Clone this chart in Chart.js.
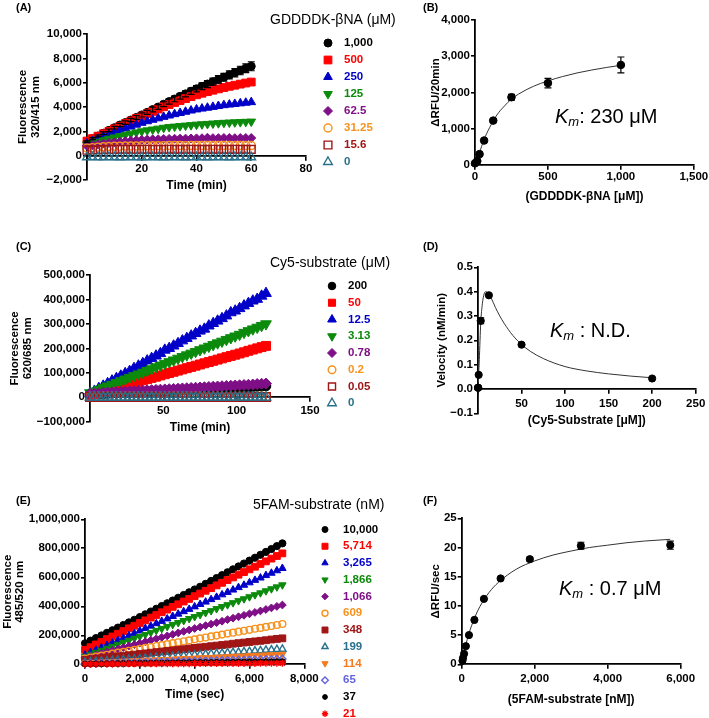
<!DOCTYPE html>
<html>
<head>
<meta charset="utf-8">
<script src="https://cdn.jsdelivr.net/npm/chart.js@4.4.1/dist/chart.umd.min.js"></script>
<style>
  html, body { margin: 0; padding: 0; background: #fff; }
  #wrap { position: relative; width: 709px; height: 718px; overflow: hidden; }
  canvas { position: absolute; }
</style>
</head>
<body>
<div id="wrap">
  <canvas id="cA" width="400" height="240" style="left:0;top:0"></canvas>
  <canvas id="cB" width="349" height="240" style="left:360px;top:0"></canvas>
  <canvas id="cC" width="400" height="230" style="left:0;top:240px"></canvas>
  <canvas id="cD" width="349" height="230" style="left:360px;top:240px"></canvas>
  <canvas id="cE" width="400" height="248" style="left:0;top:470px"></canvas>
  <canvas id="cF" width="349" height="248" style="left:360px;top:470px"></canvas>
</div>
<script>
// ---- (A) GDDDDK-bNA kinetics, RFU vs time (min)
const tA = [0,2,4,6,8,10,12,14,16,18,20,22,24,26,28,30,32,34,36,38,40,42,44,46,48,50,52,54,56,58,60];
const a1000 = [1150,1400,1620,1850,2080,2300,2520,2720,2930,3140,3350,3560,3790,4000,4230,4450,4660,4880,5080,5300,5500,5700,5890,6080,6270,6450,6640,6820,7000,7180,7350];
const a1000err = [60,80,80,100,110,110,130,140,140,160,170,170,190,200,200,220,230,230,250,260,260,280,290,290,310,320,330,340,350,360,370];
const a500 = [1200,1400,1600,1800,2000,2200,2420,2630,2840,3050,3250,3450,3640,3830,4020,4200,4370,4530,4690,4850,5000,5130,5260,5380,5490,5600,5700,5790,5880,5970,6050];
const a250 = [1000,1200,1380,1560,1730,1900,2070,2230,2390,2550,2700,2830,2950,3070,3190,3300,3410,3510,3610,3710,3800,3870,3940,4010,4080,4150,4200,4250,4300,4350,4400];
const a125 = [900,1030,1150,1270,1390,1500,1610,1710,1810,1910,2000,2080,2150,2220,2290,2350,2390,2430,2470,2510,2550,2580,2610,2640,2670,2700,2720,2740,2760,2780,2800];
const a62 = [800,870,930,990,1050,1100,1150,1190,1230,1270,1300,1320,1340,1350,1370,1380,1390,1400,1400,1410,1420,1430,1470,1440,1440,1450,1450,1440,1450,1450,1450];
const a31 = [620,660,700,730,750,770,780,790,800,800,810,810,820,820,820,830,830,830,820,830,830,830,840,830,830,830,840,830,830,830,830];
const a15 = [450,470,490,500,510,510,520,520,520,510,520,530,520,520,520,530,520,520,520,530,520,520,520,530,520,520,520,530,520,520,520];
const a0 = [-130,-120,-130,-130,-120,-130,-130,-130,-120,-130,-130,-130,-120,-130,-130,-130,-120,-130,-130,-130,-120,-130,-130,-130,-120,-130,-130,-130,-120,-130,-130];
const lblA = ['1,000','500','250','125','62.5','31.25','15.6','0'];

// ---- (B) rate vs GDDDDK-bNA
const concB = [0, 15.6, 31.25, 62.5, 125, 250, 500, 1000];
const rateB = [47, 110, 300, 675, 1225, 1870, 2260, 2760];
const errB = [0, 0, 0, 0, 40, 80, 130, 220];
const fitBx = [0, 15, 30, 60, 100, 150, 200, 250, 300, 400, 500, 600, 700, 800, 900, 1000];
const fitBy = [0, 150, 330, 680, 1030, 1380, 1620, 1820, 1960, 2170, 2320, 2440, 2540, 2620, 2690, 2750];

// ---- (C) Cy5-substrate kinetics, thousands of RFU vs time (min)
const tC = [0,3,6,9,12,15,18,21,24,27,30,33,36,39,42,45,48,51,54,57,60,63,66,69,72,75,78,81,84,87,90,93,96,99,102,105,108,111,114,117,120];
const c200 = [12,13,14,14,15,16,17,18,19,20,20,21,22,23,24,25,25,26,27,28,29,30,30,31,32,33,34,35,35,36,37,38,39,40,40,41,42,43,44,45,46];
const c50 = [8,13,18,23,28,33,38,43,48,53,58,63,69,74,79,84,89,94,99,104,109,114,119,124,129,134,139,144,149,154,159,164,169,174,179,184,190,195,200,205,210];
const c12 = [15,25,36,46,56,67,77,87,97,106,118,128,138,149,159,169,179,193,200,210,220,231,241,251,261,271,279,292,302,312,322,333,346,353,363,374,384,394,401,414,425];
const c3 = [18,25,32,39,46,53,60,67,74,81,88,95,102,109,116,124,131,138,145,152,159,166,173,180,187,194,201,208,215,222,229,236,243,250,257,265,272,279,286,293,300];
const c078 = [14,15,16,18,19,20,21,22,23,24,25,26,27,28,29,30,31,32,33,34,35,36,37,38,39,40,41,42,43,44,45,46,47,48,49,50,51,52,54,55,56];
const c02 = [2,2,2,2,2,2,2,2,2,2,2,2,2,2,2,2,2,2,2,2,2,2,2,2,2,2,2,2,2,2,2,2,2,2,2,2,2,2,2,2,2];
const c005 = [1,1,1,1,1,1,1,1,1,1,1,1,1,1,1,1,1,1,1,1,1,1,1,1,1,1,1,1,1,1,1,1,1,1,1,1,1,1,1,1,1];
const c0 = [-0.5,-0.5,-0.5,-0.5,-0.5,-0.5,-0.5,-0.5,-0.5,-0.5,-0.5,-0.5,-0.5,-0.5,-0.5,-0.5,-0.5,-0.5,-0.5,-0.5,-0.5,-0.5,-0.5,-0.5,-0.5,-0.5,-0.5,-0.5,-0.5,-0.5,-0.5,-0.5,-0.5,-0.5,-0.5,-0.5,-0.5,-0.5,-0.5,-0.5,-0.5];
const lblC = ['200','50','12.5','3.13','0.78','0.2','0.05','0'];

// ---- (D) velocity vs Cy5-substrate
const concD = [0, 0.05, 0.2, 0.78, 3.13, 12.5, 50, 200];
const velD = [0.005, 0.005, 0.005, 0.058, 0.28, 0.385, 0.182, 0.043];
const errD = [0, 0, 0, 0, 0.012, 0, 0, 0];
const fitDx = [0, 0.78, 1.5, 3.13, 5, 7, 9, 12.5, 15, 20, 25, 30, 40, 50, 60, 75, 100, 125, 150, 175, 200];
const fitDy = [0, 0.06, 0.12, 0.27, 0.35, 0.39, 0.40, 0.39, 0.375, 0.335, 0.30, 0.27, 0.22, 0.183, 0.155, 0.125, 0.092, 0.074, 0.062, 0.053, 0.046];

// ---- (E) 5FAM-substrate kinetics, thousands of RFU vs time (sec)
const tE = [0,200,400,600,800,1000,1200,1400,1600,1800,2000,2200,2400,2600,2800,3000,3200,3400,3600,3800,4000,4200,4400,4600,4800,5000,5200,5400,5600,5800,6000,6200,6400,6600,6800,7000,7200];
const e10000 = [145,163,181,199,217,235,253,271,289,307,326,345,364,383,402,421,440,459,478,497,516,535,555,575,595,615,635,655,675,695,715,735,755,775,795,815,834];
const e5714 = [100,118,137,155,174,192,211,229,248,266,285,303,322,340,359,377,396,414,433,451,470,488,507,525,544,562,581,599,618,636,655,673,692,710,729,747,765];
const e3265 = [65,82,98,115,131,148,165,181,198,214,231,248,264,281,297,314,331,347,364,380,397,414,430,447,463,480,497,513,530,546,563,580,596,613,629,646,662];
const e1866 = [55,69,82,96,110,123,137,151,164,178,192,205,219,233,246,260,274,287,301,315,328,342,356,369,383,397,410,424,438,451,465,479,492,506,520,533,547];
const e1066 = [45,55,65,75,85,96,106,116,126,136,146,156,166,176,186,196,206,217,227,237,247,257,267,277,287,297,308,318,328,338,348,358,368,378,389,399,409];
const e609 = [40,47,53,60,66,73,80,86,93,99,106,113,119,126,132,139,146,152,159,165,172,179,185,192,198,205,212,218,225,231,238,245,251,258,264,271,278];
const e348 = [30,34,38,42,47,51,55,59,63,67,71,75,80,84,88,92,96,100,104,109,113,117,121,125,129,133,137,142,146,150,154,158,162,166,171,175,179];
const e199 = [15,18,20,23,25,28,30,33,35,38,40,43,45,48,50,53,55,58,60,63,65,68,70,73,75,78,80,83,85,88,90,93,95,98,100,103,105];
const e114 = [8,10,11,13,15,16,18,20,22,23,25,27,28,30,32,33,35,37,39,40,42,44,45,47,49,50,52,54,56,57,59,61,62,64,66,67,69];
const e65 = [4,5,6,7,8,9,10,11,11,12,13,14,15,16,17,18,19,20,21,21,22,23,24,25,26,27,28,29,30,30,31,32,33,34,35,36,37];
const e37 = [2,2,3,3,4,4,5,5,6,6,7,7,7,8,8,9,9,10,10,11,11,12,12,12,13,13,14,14,15,15,16,16,16,17,17,18,18];
const e21 = [1,1,1,2,2,2,2,2,3,3,3,3,3,3,4,4,4,4,4,4,5,5,5,5,5,5,6,6,6,6,6,6,7,7,7,7,7];
const lblE = ['10,000','5,714','3,265','1,866','1,066','609','348','199','114','65','37','21'];

// ---- (F) rate vs 5FAM-substrate
const concF = [21, 37, 65, 114, 199, 348, 609, 1066, 1866, 3265, 5714];
const rateF = [0.6, 1.1, 1.8, 3.1, 5.0, 7.6, 11.2, 14.7, 18.0, 20.3, 20.4];
const errF = [0, 0, 0, 0, 0, 0, 0, 0, 0.3, 0.6, 0.7];
const fitFx = [0, 50, 100, 200, 350, 500, 750, 1000, 1500, 2000, 2500, 3000, 3500, 4000, 4500, 5000, 5714];
const fitFy = [0, 1.6, 3.0, 5.3, 7.9, 9.9, 12.3, 14.0, 16.3, 17.7, 18.7, 19.4, 20.0, 20.4, 20.8, 21.1, 21.4];

const FONT = '"Liberation Sans", Arial, Helvetica, sans-serif';
Chart.defaults.font.family = FONT;
Chart.defaults.color = '#000';

const BLACK = '#000000', RED = '#ff0000', BLUE = '#0000c8', GREEN = '#0b8a0b', PURPLE = '#7f0f86',
      ORANGE = '#f7921e', DKRED = '#a01515', TEAL = '#28708c', ORANGE2 = '#f47a20', LILAC = '#6464e0';

function fmt(v, dec) {
  dec = dec || 0;
  const s = Math.abs(v).toLocaleString('en-US', {minimumFractionDigits: dec, maximumFractionDigits: dec});
  return (v < -1e-9 ? '\u2212' : '') + s;
}

// one marker series; legR = marker size in the legend box
function series(label, xs, ys, color, style, r, open, rot, legR) {
  const fill = open ? 'rgba(0,0,0,0)' : color;
  return {
    label: label,
    data: xs.map((x, i) => ({x: x, y: ys[i]})),
    pointStyle: style, pointRadius: r, pointRotation: rot || 0, legR: legR || r,
    backgroundColor: fill, borderColor: color, pointBackgroundColor: fill, pointBorderColor: color,
    borderWidth: open || style === 'star' ? 1.4 : 1, pointBorderWidth: open || style === 'star' ? 1.4 : 1,
    showLine: false, clip: false
  };
}

// fitted curve
function curve(xs, ys) {
  return {
    label: '', curve: true,
    data: xs.map((x, i) => ({x: x, y: ys[i]})),
    showLine: true, pointRadius: 0, borderColor: '#333', borderWidth: 1,
    cubicInterpolationMode: 'monotone', fill: false, clip: false
  };
}

// error bars, panel letters, legends and Km text
const deco = {
  id: 'deco',
  afterDatasetsDraw(chart) {
    const ctx = chart.ctx, xs = chart.scales.x, ys = chart.scales.y;
    chart.data.datasets.forEach(ds => {
      if (!ds.errors) return;
      ctx.save();
      ctx.strokeStyle = ds.borderColor;
      ctx.lineWidth = 1.2;
      ds.data.forEach((p, i) => {
        const e = ds.errors[i];
        if (!e) return;
        const px = xs.getPixelForValue(p.x);
        const top = ys.getPixelForValue(p.y + e), bot = ys.getPixelForValue(p.y - e);
        ctx.beginPath();
        ctx.moveTo(px, top); ctx.lineTo(px, bot);
        ctx.moveTo(px - 3.5, top); ctx.lineTo(px + 3.5, top);
        ctx.moveTo(px - 3.5, bot); ctx.lineTo(px + 3.5, bot);
        ctx.stroke();
      });
      ctx.restore();
    });
  },
  afterDraw(chart, args, o) {
    const ctx = chart.ctx;
    ctx.save();
    ctx.textAlign = 'left';
    ctx.textBaseline = 'middle';
    ctx.fillStyle = '#000';
    if (o.letter) {
      ctx.font = 'bold 11px ' + FONT;
      ctx.fillText(o.letter, o.letterX, o.letterY);
    }
    if (o.legend) {
      const L = o.legend;
      ctx.font = '14px ' + FONT;
      ctx.fillText(L.title, L.titleX, L.titleY);
      let row = 0;
      chart.data.datasets.forEach(ds => {
        if (ds.curve) return;
        const y = L.y + row * L.rowH;
        row++;
        ctx.fillStyle = ds.backgroundColor;
        ctx.strokeStyle = ds.borderColor;
        ctx.lineWidth = ds.borderWidth;
        Chart.helpers.drawPoint(ctx, {pointStyle: ds.pointStyle, rotation: ds.pointRotation, radius: ds.legR, borderWidth: ds.borderWidth}, L.markX, y);
        ctx.fillStyle = ds.borderColor;
        ctx.font = 'bold 11.5px ' + FONT;
        ctx.fillText(ds.label, L.textX, y);
      });
    }
    if (o.km) {
      let x = o.km.x;
      const y = o.km.y;
      ctx.fillStyle = '#000';
      ctx.textBaseline = 'alphabetic';
      ctx.font = 'italic 20px ' + FONT;
      ctx.fillText('K', x, y);
      x += ctx.measureText('K').width;
      ctx.font = 'italic 13px ' + FONT;
      ctx.fillText('m', x, y + 3);
      x += ctx.measureText('m').width;
      ctx.font = '20px ' + FONT;
      ctx.fillText(o.km.rest, x, y);
    }
    ctx.restore();
  }
};
Chart.register(deco);

function axis(o) {
  return {
    type: 'linear', min: o.min, max: o.max, position: o.position,
    border: {display: true, color: '#000', width: 1.8},
    grid: {display: true, drawOnChartArea: false, drawTicks: true, tickLength: 4, color: '#000', lineWidth: 1.6},
    ticks: {stepSize: o.step, padding: o.pad, color: '#000', autoSkip: false, maxRotation: 0,
            font: {family: FONT, size: 11.5, weight: 'bold'}, callback: o.cb},
    title: {display: true, text: o.title, color: '#000', padding: o.titlePad,
            font: {family: FONT, size: o.titleSize, weight: 'bold', lineHeight: o.titleLH}},
    afterFit: o.fit
  };
}

function makeChart(id, p) {
  p.datasets.forEach((d, i) => { d.order = -i; });
  return new Chart(document.getElementById(id), {
    type: 'scatter',
    data: {datasets: p.datasets},
    options: {
      responsive: false, animation: false, events: [],
      layout: {padding: p.pad},
      plugins: {legend: {display: false}, tooltip: {enabled: false}, deco: p.deco},
      scales: {
        x: axis({min: p.x.min, max: p.x.max, step: p.x.step, position: {y: 0}, pad: p.x.pad,
                 cb: p.x.cb, title: p.x.title, titleSize: 12, titleLH: 1.2, titlePad: 0,
                 fit: s => { s.height = p.x.h; }}),
        y: axis({min: p.y.min, max: p.y.max, step: p.y.step, position: 'left', pad: 1,
                 cb: p.y.cb, title: p.y.title, titleSize: 11.5, titleLH: 1.1,
                 titlePad: {top: p.y.tpad, bottom: 0}, fit: s => { s.width = p.y.w; }})
      }
    }
  });
}

const noZero = v => (v === 0 ? '' : fmt(v));
const plain = v => fmt(v);
const thousands = v => fmt(v * 1000);

// (A)
const dsA = [
  series(lblA[0], tA, a1000, BLACK, 'circle', 4, false),
  series(lblA[1], tA, a500, RED, 'rect', 5.5, false),
  series(lblA[2], tA, a250, BLUE, 'triangle', 5, false),
  series(lblA[3], tA, a125, GREEN, 'triangle', 5, false, 180),
  series(lblA[4], tA, a62, PURPLE, 'rectRot', 4.5, false),
  series(lblA[5], tA, a31, ORANGE, 'circle', 4, true),
  series(lblA[6], tA, a15, DKRED, 'rect', 5.5, true),
  series(lblA[7], tA, a0, TEAL, 'triangle', 5, true)
];
dsA[0].errors = a1000err;
makeChart('cA', {
  datasets: dsA,
  pad: {left: 0, top: 34, right: 94, bottom: 60},
  x: {min: 0, max: 80, step: 20, pad: 2.1, h: 37.2, cb: noZero, title: 'Time (min)'},
  y: {min: -2000, max: 10000, step: 2000, w: 87, tpad: 16.7, cb: plain, title: ['Fluorescence', '320/415 nm']},
  deco: {letter: '(A)', letterX: 16, letterY: 8,
         legend: {title: 'GDDDDK-\u03B2NA (\u03BCM)', titleX: 270, titleY: 20, y: 43, rowH: 17, markX: 328, textX: 344}}
});

// (B)
const ptsB = series('', concB, rateB, BLACK, 'circle', 3.8, false);
ptsB.errors = errB;
makeChart('cB', {
  datasets: [curve(fitBx, fitBy), ptsB],
  pad: {left: 0, top: 20, right: 15, bottom: 75},
  x: {min: 0, max: 1500, step: 500, pad: 0.8, h: 38.9, cb: plain, title: '(GDDDDK-\u03B2NA [\u03BCM])'},
  y: {min: 0, max: 4000, step: 1000, w: 115, tpad: 69.7, cb: plain, title: '\u0394RFU/20min'},
  deco: {letter: '(B)', letterX: 63, letterY: 8, km: {x: 195, y: 123, rest: ': 230 \u03BCM'}}
});

// (C)
makeChart('cC', {
  datasets: [
    series(lblC[0], tC, c200, BLACK, 'circle', 4.8, false, 0, 3.8),
    series(lblC[1], tC, c50, RED, 'rect', 6.3, false, 0, 5),
    series(lblC[2], tC, c12, BLUE, 'triangle', 6.2, false, 0, 5),
    series(lblC[3], tC, c3, GREEN, 'triangle', 6.2, false, 180, 5),
    series(lblC[4], tC, c078, PURPLE, 'rectRot', 5.5, false, 0, 4.5),
    series(lblC[5], tC, c02, ORANGE, 'circle', 4.5, true, 0, 3.8),
    series(lblC[6], tC, c005, DKRED, 'rect', 6, true, 0, 5),
    series(lblC[7], tC, c0, TEAL, 'triangle', 5.5, true, 0, 5)
  ],
  pad: {left: 0, top: 35, right: 90, bottom: 48.3},
  x: {min: 0, max: 150, step: 50, pad: 2.4, h: 37.2, cb: noZero, title: 'Time (min)'},
  y: {min: -100, max: 500, step: 100, w: 90, tpad: 8.7, cb: thousands, title: ['Fluorescence', '620/685 nm']},
  deco: {letter: '(C)', letterX: 16, letterY: 7,
         legend: {title: 'Cy5-substrate (\u03BCM)', titleX: 270, titleY: 23, y: 46, rowH: 16.75, markX: 332, textX: 348}}
});

// (D)
const ptsD = series('', concD, velD, BLACK, 'circle', 3.6, false);
ptsD.errors = errD;
makeChart('cD', {
  datasets: [curve(fitDx, fitDy), ptsD],
  pad: {left: 0, top: 27.3, right: 12, bottom: 56.7},
  x: {min: 0, max: 250, step: 50, pad: 3.7, h: 38.5, cb: noZero, title: '(Cy5-Substrate [\u03BCM])'},
  y: {min: -0.1, max: 0.5, step: 0.1, w: 118, tpad: 75.7, cb: v => fmt(v, 1), title: 'Velocity (nM/min)'},
  deco: {letter: '(D)', letterX: 63, letterY: 7, km: {x: 190, y: 96.7, rest: ' : N.D.'}}
});

// (E)
makeChart('cE', {
  datasets: [
    series(lblE[0], tE, e10000, BLACK, 'circle', 3.6, false, 0, 3),
    series(lblE[1], tE, e5714, RED, 'rect', 4.8, false, 0, 4.2),
    series(lblE[2], tE, e3265, BLUE, 'triangle', 4.3, false, 0, 3.6),
    series(lblE[3], tE, e1866, GREEN, 'triangle', 4.3, false, 180, 3.6),
    series(lblE[4], tE, e1066, PURPLE, 'rectRot', 3.9, false, 0, 3.3),
    series(lblE[5], tE, e609, ORANGE, 'circle', 3.4, true, 0, 3),
    series(lblE[6], tE, e348, DKRED, 'rect', 4.8, false, 0, 4.2),
    series(lblE[7], tE, e199, TEAL, 'triangle', 4.2, true, 0, 3.6),
    series(lblE[8], tE, e114, ORANGE2, 'triangle', 4.2, false, 180, 3.6),
    series(lblE[9], tE, e65, LILAC, 'rectRot', 3.6, true, 0, 3.3),
    series(lblE[10], tE, e37, BLACK, 'circle', 3, false, 0, 2.4),
    series(lblE[11], tE, e21, RED, 'star', 3.5, false, 0, 3.2)
  ],
  pad: {left: 0, top: 49.3, right: 95.7, bottom: 53.7},
  x: {min: 0, max: 8000, step: 2000, pad: 4.1, h: 37.9, cb: plain, title: 'Time (sec)'},
  y: {min: 0, max: 1000, step: 200, w: 85, tpad: 1.2, cb: thousands, title: ['Fluorescence', '485/520 nm']},
  deco: {letter: '(E)', letterX: 16, letterY: 31,
         legend: {title: '5FAM-substrate (nM)', titleX: 253, titleY: 35, y: 59.5, rowH: 16.75, markX: 325, textX: 343}}
});

// (F)
const ptsF = series('', concF, rateF, BLACK, 'circle', 3.6, false);
ptsF.errors = errF;
makeChart('cF', {
  datasets: [curve(fitFx, fitFy), ptsF],
  pad: {left: 0, top: 48.3, right: 28.3, bottom: 53.7},
  x: {min: 0, max: 6000, step: 2000, pad: 4.1, h: 42.2, cb: plain, title: '(5FAM-substrate [nM])'},
  y: {min: 0, max: 25, step: 5, w: 101.7, tpad: 69.7, cb: plain, title: '\u0394RFU/sec'},
  deco: {letter: '(F)', letterX: 63, letterY: 31, km: {x: 199, y: 125, rest: ' : 0.7 \u03BCM'}}
});
</script>
</body>
</html>
